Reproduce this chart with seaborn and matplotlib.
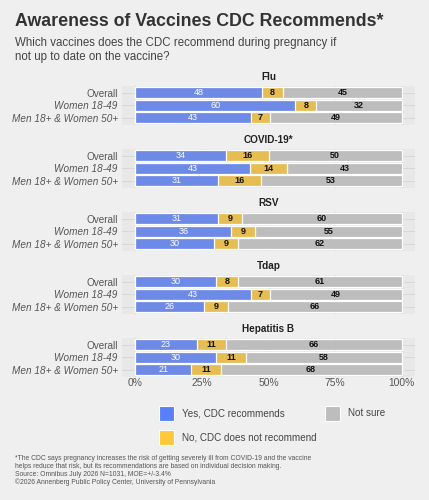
import matplotlib
matplotlib.use("Agg")
import matplotlib.pyplot as plt
import numpy as np
import pandas as pd
import seaborn as sns

# ---- data ----
vaccines = ["Flu", "COVID-19*", "RSV", "Tdap", "Hepatitis B"]
groups = ["Overall", "Women 18-49", "Men 18+ & Women 50+"]
yes_vals = [[48, 60, 43], [34, 43, 31], [31, 36, 30], [30, 43, 26], [23, 30, 21]]
no_vals = [[8, 8, 7], [16, 14, 16], [9, 9, 9], [8, 7, 9], [11, 11, 11]]
unsure_vals = [[45, 32, 49], [50, 43, 53], [60, 55, 62], [61, 49, 66], [66, 58, 68]]
responses = ["Yes, CDC recommends", "No, CDC does not recommend", "Not sure"]
tick_labels = ["0%", "25%", "50%", "75%", "100%"]

colors = {"Yes, CDC recommends": "#5a7ffb",
          "No, CDC does not recommend": "#fec83a",
          "Not sure": "#bdbdbd"}

BG = "#efefef"
PANEL = "#e8e8e8"
GRID = "#d8d8d8"

plt.rcParams["font.family"] = ["Liberation Sans", "DejaVu Sans"]

W, H = 429, 500
fig = plt.figure(figsize=(W / 100, H / 100), dpi=100)
fig.patch.set_facecolor(BG)

# title / subtitle
fig.text(15 / W, 1 - 21 / H, "Awareness of Vaccines CDC Recommends*", fontsize=12.8,
         fontweight="bold", color="#333333", va="center", ha="left")
fig.text(15 / W, 1 - 43 / H, "Which vaccines does the CDC recommend during pregnancy if",
         fontsize=8.3, color="#444444", va="center", ha="left")
fig.text(15 / W, 1 - 57 / H, "not up to date on the vaccine?",
         fontsize=8.3, color="#444444", va="center", ha="left")

panel_left, panel_w, panel_h = 122, 293, 39.4
panel_tops = [85.5, 148.5, 211.5, 274.5, 337.5]

for i, vac in enumerate(vaccines):
    rows = []
    for j, g in enumerate(groups):
        vals = [yes_vals[i][j], no_vals[i][j], unsure_vals[i][j]]
        tot = sum(vals)
        cum = np.cumsum(vals) / tot * 100
        for k, r in enumerate(responses):
            rows.append({"group": g, "response": r, "value": vals[k],
                         "cum": cum[k], "start": cum[k] - vals[k] / tot * 100})
    df = pd.DataFrame(rows)

    top = panel_tops[i]
    ax = fig.add_axes([panel_left / W, 1 - (top + panel_h) / H, panel_w / W, panel_h / H])
    ax.set_facecolor(PANEL)

    # stacked bars: draw cumulative totals, widest first
    sns.barplot(data=df, x="cum", y="group", hue="response",
                hue_order=responses[::-1], order=groups, palette=colors,
                dodge=False, width=0.9, edgecolor="white", linewidth=0.9,
                orient="h", ax=ax, legend=False, zorder=3)

    for _, row in df.iterrows():
        xc = (row["start"] + row["cum"]) / 2
        yi = groups.index(row["group"])
        if row["response"] == responses[0]:
            ax.text(xc, yi, str(row["value"]), ha="center", va="center",
                    fontsize=6.5, color="white", zorder=4)
        else:
            ax.text(xc, yi, str(row["value"]), ha="center", va="center",
                    fontsize=6.5, color="#111111", fontweight="bold", zorder=4)

    ax.set_xlim(-5, 105)
    ax.set_ylim(2.6, -0.6)
    ax.set_xticks([0, 25, 50, 75, 100])
    ax.grid(True, color=GRID, linewidth=0.8, zorder=0)
    ax.set_axisbelow(True)
    for s in ax.spines.values():
        s.set_visible(False)
    ax.set_xlabel("")
    ax.set_ylabel("")
    ax.tick_params(axis="y", length=0, pad=3)
    ax.tick_params(axis="x", length=0, pad=1)
    ax.set_yticks(range(len(groups)))
    ax.set_yticklabels(groups, fontsize=7.2, color="#555555")
    for lab in ax.get_yticklabels()[1:]:
        lab.set_fontstyle("italic")
    if i == len(vaccines) - 1:
        ax.set_xticklabels(tick_labels, fontsize=7.4, color="#555555")
    else:
        ax.set_xticklabels([])

    fig.text((panel_left + panel_w / 2) / W, 1 - (top - 8.5) / H, vac,
             fontsize=7.2, fontweight="bold", color="#222222", ha="center", va="center")

# legend
leg = [(159, 413, responses[0]), (159, 437, responses[1]), (325, 413, responses[2])]
for x, y, r in leg:
    fig.patches.append(plt.Rectangle((x / W, 1 - (y + 7.5) / H), 15 / W, 15 / H,
                                     transform=fig.transFigure, facecolor=colors[r],
                                     edgecolor="white", linewidth=0.8, figure=fig))
    fig.text((x + 23) / W, 1 - y / H, r, fontsize=7.1, color="#444444",
             ha="left", va="center")

# footnote
notes = ["*The CDC says pregnancy increases the risk of getting severely ill from COVID-19 and the vaccine",
         "helps reduce that risk, but its recommendations are based on individual decision making.",
         "Source: Omnibus July 2026 N=1031, MOE=+/-3.4%",
         "\u00a92026 Annenberg Public Policy Center, University of Pennsylvania"]
for k, line in enumerate(notes):
    fig.text(15 / W, 1 - (459 + 7.6 * k) / H, line, fontsize=4.9, color="#555555",
             ha="left", va="center")

fig.savefig("out.png", dpi=100, facecolor=BG)
